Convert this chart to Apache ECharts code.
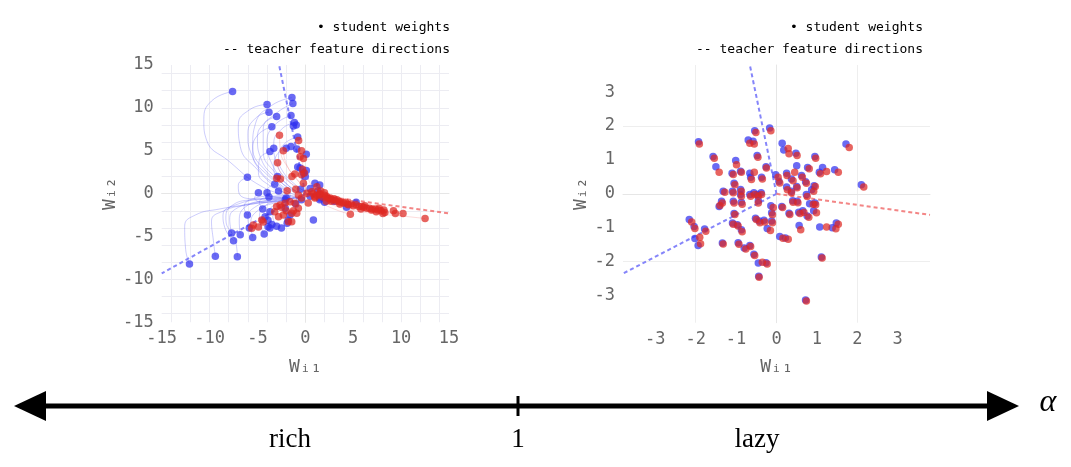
<!DOCTYPE html>
<html><head><meta charset="utf-8">
<script src="https://cdn.jsdelivr.net/npm/echarts@6/dist/echarts.min.js"></script>
<style>html,body{margin:0;padding:0;background:#fff}#c{width:1071px;height:467px}</style>
</head><body><div id="c"></div><script>
// ---------- rich regime (left panel) ----------
const richBlue = [
 [-7.6,11.9],[-1.4,11.2],[-1.3,10.5],[-4.0,10.4],[-3.8,9.5],[-3.0,9.0],[-1.5,9.1],[-1.15,8.3],[-0.95,8.0],[-1.25,7.9],
 [-3.5,7.8],[-0.8,6.6],[-3.7,4.9],[-3.3,5.3],[-2.0,5.3],[-1.5,5.5],[-0.9,5.2],[-0.8,3.1],[0.1,2.7],[-0.2,2.4],
 [0.0,2.0],[0.1,4.6],[-0.55,3.0],[-6.05,1.9],[-2.9,2.0],[-3.2,1.1],[1.0,1.2],[1.5,1.0],[0.5,0.6],[-4.9,0.1],
 [-4.0,0.1],[-3.8,-0.4],[-2.8,0.3],[-0.4,-0.7],[-2.1,-0.7],[-2.0,-0.5],[-1.0,-1.2],[0.5,-0.3],[1.5,-0.7],[2.0,-1.0],
 [-0.5,0.5],[1.3,0.3],[-1.6,-2.5],[-3.7,-2.1],[-4.2,-2.7],[-3.9,-3.1],[-4.45,-1.8],[-2.1,-1.7],[-6.05,-2.5],[0.84,-3.07],
 [-1.8,-3.1],[-3.5,-3.6],[-3.9,-3.85],[-3.7,-4.0],[-3.0,-3.8],[-2.5,-4.0],[-1.9,-3.45],[-5.85,-4.0],[-7.7,-4.6],[-6.8,-4.8],
 [-7.5,-5.5],[-5.5,-5.1],[-4.3,-4.7],[-9.4,-7.3],[-7.1,-7.35],[-12.1,-8.2],[4.3,-1.6],[5.3,-1.0],[3.0,-0.9],[1.5,-0.5]
];
const richRed = [
 [-2.7,6.8],[-0.7,6.2],[-2.3,5.0],[-0.4,5.0],[-0.55,4.3],[-0.2,4.1],[-2.9,3.6],[-0.3,2.85],[-2.6,1.7],[-1.4,2.0],
 [-1.1,2.3],[-0.4,2.2],[-0.1,2.4],[-1.9,0.35],[-3.0,1.8],[-0.2,1.2],[-0.73,-0.15],[0.15,0.05],[0.67,0.23],[1.0,-0.35],
 [0.3,-1.1],[-0.4,-0.5],[-1.0,0.5],[1.2,0.8],[1.6,0.3],[2.2,-0.3],[2.6,-0.5],[-2.64,-1.32],[-2.12,-1.12],[-1.6,-0.93],
 [-1.08,-1.12],[-0.73,-1.7],[-0.9,-2.29],[-1.42,-2.29],[-2.3,-2.49],[-2.8,-2.68],[-1.77,-3.27],[-1.42,-3.27],[-4.55,-3.07],[-5.43,-3.65],
 [-5.6,-4.04],[-4.9,-3.9],[-4.4,-3.3],[-3.0,-1.5],[-2.5,-1.6],[-1.25,-2.0],[-2.0,-2.0],[-3.2,-2.1],[0.8,0.0],[1.0,-0.5],
 [1.2,-0.2],[1.5,-0.1],[1.8,-0.4],[2.0,-0.2],[2.3,-0.5],[2.5,-0.6],[2.8,-0.7],[3.0,-0.6],[3.2,-0.9],[3.5,-0.9],
 [3.7,-1.0],[4.0,-1.1],[4.2,-1.0],[4.5,-1.3],[4.8,-1.2],[5.0,-1.4],[5.3,-1.3],[5.6,-1.5],[5.9,-1.5],[6.1,-1.6],
 [6.4,-1.7],[6.7,-1.7],[7.0,-1.8],[7.3,-1.8],[7.6,-1.9],[7.9,-2.0],[8.2,-1.9],[8.3,-2.2],[8.1,-2.3],[7.7,-1.7],
 [6.9,-1.9],[5.8,-1.8],[3.6,-1.2],[2.7,-0.9],[2.2,-0.9],[9.2,-2.0],[9.4,-2.3],[10.2,-2.3],[12.5,-2.9],[4.7,-2.4],
 [1.5,0.0],[2.0,0.1],[3.3,-0.7],[4.4,-1.2],[6.2,-1.4],[7.4,-2.1]
];
const richBlueTrajectories = [
 [[-7.6,11.9],[-9.8,10.8],[-10.6,8.6],[-10.3,6.2],[-8.0,3.8],[-4.5,0.8],[-1.5,-0.3]],
 [[-4.0,10.4],[-5.8,9.8],[-7.0,8.0],[-6.8,5.5],[-5.0,2.8],[-2.5,0.3],[-0.8,-0.4]],
 [[-3.8,9.5],[-5.2,8.8],[-6.0,7.0],[-5.6,4.5],[-3.8,2.0],[-1.5,0.0]],
 [[-3.0,9.0],[-4.3,8.2],[-5.0,6.5],[-4.6,4.0],[-3.0,1.8],[-1.0,0.0]],
 [[-1.4,11.2],[-3.5,10.3],[-5.2,8.2],[-5.5,5.5],[-4.0,2.5],[-1.5,0.2]],
 [[-1.3,10.5],[-3.0,9.4],[-4.4,7.5],[-4.4,5.0],[-3.2,2.5],[-1.0,0.3]],
 [[-1.5,9.1],[-3.2,8.0],[-4.0,6.0],[-3.5,3.5],[-2.0,1.2],[-0.5,0.0]],
 [[-1.15,8.3],[-2.5,7.5],[-3.3,5.8],[-3.0,3.5],[-1.6,1.3],[-0.3,0.2]],
 [[-3.5,7.8],[-5.0,6.8],[-5.5,5.0],[-4.8,2.8],[-3.0,1.0],[-1.0,-0.2]],
 [[-0.8,6.6],[-2.2,5.8],[-2.8,4.2],[-2.3,2.5],[-1.0,1.0],[0.0,0.2]],
 [[-3.7,4.9],[-4.8,4.0],[-4.9,2.5],[-3.8,1.0],[-1.8,0.0]],
 [[-2.0,5.3],[-3.0,4.5],[-3.3,3.0],[-2.5,1.3],[-0.8,0.2]],
 [[-6.05,1.9],[-7.0,1.0],[-6.8,-0.2],[-5.0,-0.6],[-2.5,-0.6]],
 [[-12.1,-8.2],[-12.5,-6.5],[-12.6,-3.8],[-11.5,-2.5],[-9.0,-1.8],[-5.5,-1.2],[-2.5,-0.8]],
 [[-9.4,-7.3],[-9.6,-5.5],[-9.8,-3.2],[-8.5,-2.0],[-6.0,-1.3],[-3.0,-0.8]],
 [[-7.1,-7.35],[-7.3,-5.5],[-8.3,-3.0],[-7.8,-1.5],[-5.5,-0.7],[-2.5,-0.5]],
 [[-7.7,-4.6],[-7.9,-3.0],[-7.3,-1.8],[-5.0,-1.0],[-2.0,-0.6]],
 [[-6.8,-4.8],[-6.9,-3.2],[-6.2,-1.5],[-4.0,-0.8],[-1.5,-0.5]],
 [[-7.5,-5.5],[-8.4,-4.0],[-8.6,-2.5],[-7.0,-1.2],[-4.0,-0.6],[-1.5,-0.4]],
 [[-5.85,-4.0],[-6.0,-2.8],[-5.3,-1.6],[-3.5,-0.9],[-1.2,-0.5]],
 [[-5.5,-5.1],[-5.7,-3.5],[-5.0,-2.0],[-3.0,-1.0],[-1.0,-0.5]],
 [[-4.3,-4.7],[-4.8,-3.0],[-4.3,-1.5],[-2.5,-0.8],[-0.8,-0.4]],
 [[-6.05,-2.5],[-6.4,-1.6],[-5.5,-0.6],[-3.5,-0.3],[-1.2,-0.3]],
 [[-4.9,0.1],[-5.3,-0.5],[-4.5,-1.0],[-2.5,-0.8],[-0.8,-0.4]],
 [[-4.45,-1.8],[-4.8,-1.0],[-3.8,-0.4],[-1.5,-0.2]],
 [[-3.5,-3.6],[-3.8,-2.2],[-3.0,-1.2],[-1.0,-0.4]],
 [[-3.2,1.1],[-4.0,0.4],[-3.5,-0.4],[-1.5,-0.5]],
 [[-3.0,-3.8],[-3.4,-2.6],[-2.8,-1.4],[-1.0,-0.5]]
];
const richRedTrajectories = [
 [[12.5,-2.9],[10.0,-2.6],[7.0,-2.3],[4.0,-1.7],[1.5,-0.8],[0.0,-0.3]],
 [[4.7,-2.4],[3.5,-2.0],[2.0,-1.3],[0.5,-0.5]],
 [[10.2,-2.3],[7.0,-1.9],[4.0,-1.3],[1.5,-0.6],[0.0,-0.2]],
 [[-2.7,6.8],[-2.6,5.0],[-1.8,3.0],[-0.5,1.2],[0.5,0.0]],
 [[-2.3,5.0],[-2.0,3.5],[-1.0,1.8],[0.2,0.5]],
 [[-2.9,3.6],[-2.5,2.3],[-1.2,1.0],[0.3,0.2]],
 [[-0.7,6.2],[-0.5,4.5],[0.0,2.5],[0.6,1.0],[1.0,0.0]],
 [[-5.43,-3.65],[-4.5,-2.8],[-3.0,-1.8],[-1.0,-0.8],[0.5,-0.3]],
 [[-4.55,-3.07],[-3.5,-2.2],[-2.0,-1.2],[0.0,-0.4]],
 [[9.4,-2.3],[6.5,-2.0],[3.5,-1.4],[1.0,-0.5]]
];
const richTeacherBlue = [[[0,0],[-2.74,15]], [[0,0],[-15,-9.3]]];
const richTeacherRed = [[[0,0],[15,-2.3]]];
const richTicks = [-15,-10,-5,0,5,10,15];
const richGrid = [-14,-12,-10,-8,-6,-4,-2,0,2,4,6,8,10,12,14];

// ---------- lazy regime (right panel) ----------
const lazyBlue = [
 [-1.93,1.54],[-1.57,1.10],[-1.50,0.80],[-1.01,0.98],[-1.10,0.61],[-0.89,0.67],[-0.70,1.59],[-0.58,1.55],[-0.54,1.86],[-0.17,1.94],
 [-0.48,1.13],[-0.26,0.80],[-0.66,0.61],[-0.64,0.49],[-0.37,0.49],[-0.02,0.56],[0.14,1.49],[0.18,1.29],[0.48,1.20],[0.50,0.83],
 [0.77,0.78],[0.95,1.10],[1.14,0.78],[1.06,0.64],[1.44,0.71],[1.72,1.47],[2.10,0.27],[0.25,0.61],[0.37,0.44],[0.62,0.54],
 [0.72,0.36],[0.50,0.22],[0.25,0.20],[0.74,-0.02],[0.87,0.12],[0.40,-0.20],[0.82,-0.29],[0.92,-0.50],[0.31,-0.57],[0.56,-0.93],
 [0.08,-1.26],[0.22,-1.30],[1.07,-0.98],[1.38,-1.00],[1.48,-0.86],[1.11,-1.86],[0.72,-3.13],[-0.12,-0.56],[-0.14,-0.35],[-0.12,-0.80],
 [-0.23,-1.02],[-0.52,-0.72],[-0.43,-0.80],[-0.31,-0.78],[-0.45,-0.20],[-0.38,0.03],[-0.47,-0.02],[-0.56,0.03],[-0.66,-0.02],[-1.09,0.08],
 [-1.05,0.31],[-0.89,0.13],[-0.89,-0.02],[-0.87,-0.25],[-1.07,-0.22],[-1.05,-0.58],[-1.09,-0.86],[-0.97,-0.91],[-0.87,-1.06],[-1.32,0.08],
 [-1.42,-0.37],[-1.36,-0.22],[-2.16,-0.76],[-2.04,-0.96],[-1.78,-1.04],[-2.02,-1.32],[-1.94,-1.52],[-1.34,-1.45],[-0.95,-1.44],[-0.80,-1.60],
 [-0.66,-1.52],[-0.56,-1.78],[-0.45,-2.04],[-0.26,-2.03],[-0.44,-2.43],[0.06,0.37],[0.37,0.08],[0.51,-0.22],[0.65,-0.50],[0.55,-0.54],
 [0.93,0.24],[0.13,-0.37],[0.76,-0.65],[0.95,-0.27]
];
const lazyRed = [
 [-1.91,1.47],[-1.54,1.05],[-1.42,0.64],[-0.99,0.86],[-1.07,0.57],[-0.87,0.64],[-0.66,1.49],[-0.55,1.47],[-0.51,1.81],[-0.14,1.86],
 [-0.46,1.08],[-0.25,0.76],[-0.55,0.64],[-0.62,0.42],[-0.35,0.44],[0.04,0.49],[0.29,1.34],[0.31,1.18],[0.51,1.13],[0.45,0.64],
 [0.81,0.74],[0.97,1.05],[1.24,0.66],[1.09,0.59],[1.53,0.64],[1.80,1.37],[2.16,0.20],[0.26,0.54],[0.41,0.39],[0.64,0.49],
 [0.74,0.31],[0.51,0.18],[0.27,0.12],[0.76,-0.08],[0.92,0.08],[0.41,-0.25],[0.91,-0.31],[0.99,-0.56],[0.33,-0.61],[0.60,-1.06],
 [0.16,-1.31],[0.29,-1.34],[1.24,-0.98],[1.47,-1.03],[1.53,-0.90],[1.13,-1.89],[0.74,-3.16],[-0.10,-0.62],[-0.08,-0.40],[-0.10,-0.85],
 [-0.15,-1.08],[-0.50,-0.76],[-0.41,-0.85],[-0.29,-0.83],[-0.45,-0.27],[-0.37,-0.02],[-0.45,-0.07],[-0.54,-0.02],[-0.64,-0.07],[-1.07,0.03],
 [-1.03,0.27],[-0.87,0.08],[-0.87,-0.07],[-0.85,-0.31],[-1.05,-0.27],[-1.03,-0.61],[-1.07,-0.90],[-0.95,-0.95],[-0.85,-1.12],[-1.28,0.05],
 [-1.40,-0.34],[-1.34,-0.27],[-2.10,-0.83],[-2.02,-1.02],[-1.75,-1.10],[-1.90,-1.28],[-1.88,-1.47],[-1.32,-1.48],[-0.93,-1.49],[-0.76,-1.63],
 [-0.64,-1.55],[-0.54,-1.82],[-0.35,-2.02],[-0.23,-2.07],[-0.43,-2.46],[0.08,0.32],[0.37,0.03],[0.53,-0.26],[0.68,-0.55],[0.58,-0.58],
 [0.96,0.22],[0.15,-0.40],[0.80,-0.69],[0.97,-0.32]
];
const lazyTeacherBlue = [[[0,0],[-0.66,3.8]], [[0,0],[-3.8,-2.35]]];
const lazyTeacherRed = [[[0,0],[3.8,-0.62]]];
const lazyTicks = [-3,-2,-1,0,1,2,3];
const lazyGrid = [-2,0,2];

// ---------- texts ----------
const legendLabels = ['• student weights', '-- teacher feature directions'];
const axisNames = ['Wᵢ₁', 'Wᵢ₂'];
const regimeLabels = ['rich', '1', 'lazy'];
const alphaLabel = 'α';

// ---------- build ----------
const chart = echarts.init(document.getElementById('c'), null, {renderer: 'canvas'});
const MONO = '"DejaVu Sans Mono", monospace';
const BLUE = 'rgba(48,48,238,0.9)';
const RED = 'rgba(222,40,34,0.9)';

function axisPair(idx, min, max, ticks, custom) {
  const lbl = {color: '#666', fontFamily: MONO, fontSize: 17, margin: 8};
  if (custom) lbl.customValues = ticks;
  const x = {type: 'value', gridIndex: idx, min: min, max: max,
    name: axisNames[0], nameLocation: 'middle', nameGap: 36,
    nameTextStyle: {color: '#666', fontFamily: MONO, fontSize: 18},
    axisLine: {show: true, lineStyle: {color: '#e6e6e6', width: 1}},
    axisTick: {show: false}, splitLine: {show: false}, axisLabel: lbl};
  const y = {type: 'value', gridIndex: idx, min: min, max: max,
    name: axisNames[1], nameLocation: 'middle', nameGap: idx === 0 ? 31 : 28,
    nameTextStyle: {color: '#666', fontFamily: MONO, fontSize: 18},
    axisLine: {show: true, lineStyle: {color: '#e6e6e6', width: 1}},
    axisTick: {show: false}, splitLine: {show: false}, axisLabel: Object.assign({}, lbl)};
  if (!custom) { x.interval = 5; y.interval = 5; }
  return [x, y];
}
const [x0, y0] = axisPair(0, -15, 15, richTicks, false);
const [x1, y1] = axisPair(1, -3.8, 3.8, lazyTicks, true);

const series = [];
function gridLines(idx, vals, min, max, color) {
  const data = [];
  vals.forEach(v => { data.push({coords: [[v, min], [v, max]]}); data.push({coords: [[min, v], [max, v]]}); });
  series.push({type: 'lines', coordinateSystem: 'cartesian2d', xAxisIndex: idx, yAxisIndex: idx,
    data: data, silent: true, z: 0, lineStyle: {color: color, width: 1, opacity: 1}});
}
gridLines(0, richGrid, -15, 15, '#ececf2');
gridLines(1, lazyGrid, -3.8, 3.8, '#eeeeee');

richBlueTrajectories.forEach(t => series.push({type: 'line', xAxisIndex: 0, yAxisIndex: 0, data: t,
  smooth: 0.5, symbol: 'none', silent: true, z: 1, lineStyle: {color: 'rgba(90,90,245,0.3)', width: 1}}));
richRedTrajectories.forEach(t => series.push({type: 'line', xAxisIndex: 0, yAxisIndex: 0, data: t,
  smooth: 0.5, symbol: 'none', silent: true, z: 1, lineStyle: {color: 'rgba(240,90,90,0.22)', width: 1}}));

function teacher(idx, lines, color) {
  lines.forEach(l => series.push({type: 'line', xAxisIndex: idx, yAxisIndex: idx, data: l,
    symbol: 'none', silent: true, z: 2, lineStyle: {color: color, width: 2, type: [4, 3]}}));
}
teacher(0, richTeacherBlue, 'rgba(120,120,250,0.9)');
teacher(0, richTeacherRed, 'rgba(242,120,120,0.9)');
teacher(1, lazyTeacherBlue, 'rgba(120,120,250,0.9)');
teacher(1, lazyTeacherRed, 'rgba(242,120,120,0.9)');

function scatter(idx, data, color) {
  series.push({type: 'scatter', xAxisIndex: idx, yAxisIndex: idx, data: data, symbolSize: 7.5,
    silent: true, z: 3, itemStyle: {color: color}});
}
scatter(0, richBlue, BLUE);
scatter(0, richRed, RED);
scatter(1, lazyBlue, BLUE);
scatter(1, lazyRed, RED);

const legendFont = '13px ' + MONO;
function legendText(xRight) {
  return [
    {type: 'text', x: xRight, y: 28, style: {text: legendLabels[0], font: legendFont, fill: '#000', textAlign: 'right', textVerticalAlign: 'middle'}},
    {type: 'text', x: xRight, y: 50, style: {text: legendLabels[1], font: legendFont, fill: '#000', textAlign: 'right', textVerticalAlign: 'middle'}}
  ];
}
const SERIF = '"Liberation Serif", "DejaVu Serif", serif';
const graphic = [].concat(legendText(450), legendText(923), [
  {type: 'line', shape: {x1: 40, y1: 406, x2: 992, y2: 406}, style: {stroke: '#000', lineWidth: 5}},
  {type: 'polygon', shape: {points: [[14, 406], [46, 391], [46, 421]]}, style: {fill: '#000'}},
  {type: 'polygon', shape: {points: [[1019, 406], [987, 391], [987, 421]]}, style: {fill: '#000'}},
  {type: 'line', shape: {x1: 518, y1: 396, x2: 518, y2: 416}, style: {stroke: '#000', lineWidth: 3}},
  {type: 'text', x: 290, y: 440, style: {text: regimeLabels[0], font: '27px ' + SERIF, fill: '#000', textAlign: 'center', textVerticalAlign: 'middle'}},
  {type: 'text', x: 518, y: 440, style: {text: regimeLabels[1], font: '27px ' + SERIF, fill: '#000', textAlign: 'center', textVerticalAlign: 'middle'}},
  {type: 'text', x: 757, y: 440, style: {text: regimeLabels[2], font: '27px ' + SERIF, fill: '#000', textAlign: 'center', textVerticalAlign: 'middle'}},
  {type: 'text', x: 1048, y: 403, style: {text: alphaLabel, font: 'italic 32px ' + SERIF, fill: '#000', textAlign: 'center', textVerticalAlign: 'middle'}}
]);

chart.setOption({
  animation: false,
  backgroundColor: '#fff',
  grid: [
    {left: 161.7, top: 65, width: 287.3, height: 257.3},
    {left: 623, top: 65, width: 307, height: 257.7}
  ],
  xAxis: [x0, x1],
  yAxis: [y0, y1],
  series: series,
  graphic: graphic
});
</script></body></html>
